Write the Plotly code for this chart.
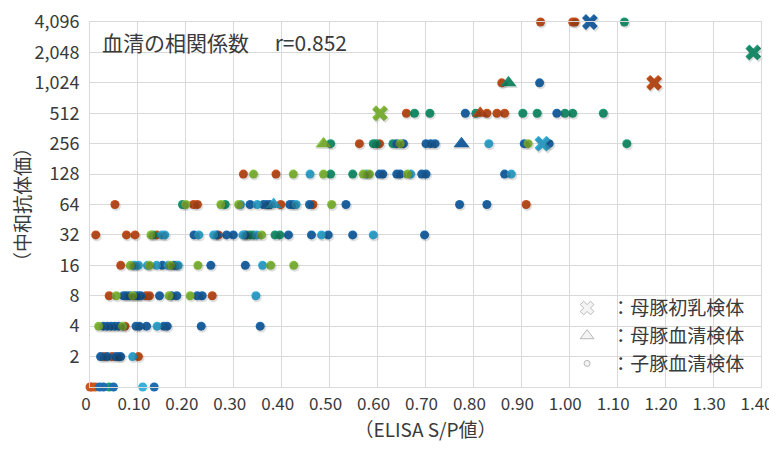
import plotly.graph_objects as go
import math

# ---------------- data ----------------
titer_ticks = [2, 4, 8, 16, 32, 64, 128, 256, 512, 1024, 2048, 4096]
titer_tick_text = ["2", "4", "8", "16", "32", "64", "128", "256", "512", "1,024", "2,048", "4,096"]
sp_ticks = [0, 0.1, 0.2, 0.3, 0.4, 0.5, 0.6, 0.7, 0.8, 0.9, 1.0, 1.1, 1.2, 1.3, 1.4]
sp_tick_text = ["0", "0.10", "0.20", "0.30", "0.40", "0.50", "0.60", "0.70", "0.80", "0.90",
                "1.00", "1.10", "1.20", "1.30", "1.40"]

farm_names = ["A", "B", "C", "D", "E"]
farm_colors = ["#CB5420", "#1E9C76", "#1F6CB0", "#36B0DC", "#8CC540"]

# piglet serum samples: titer -> list of ELISA S/P values (titer 1 = below 2)
piglet_A = {4096: [0.940, 1.007, 1.012], 1024: [0.859], 512: [0.660, 0.828, 0.849, 0.865],
            256: [0.562, 0.604], 128: [0.320, 0.388],
            64: [0.052, 0.216, 0.224, 0.398, 0.465, 0.910],
            32: [0.012, 0.076, 0.094, 0.139, 0.268, 0.327], 16: [0.064],
            8: [0.040, 0.117, 0.124, 0.255], 4: [0.073], 2: [0.029, 0.046, 0.101],
            1: [0.000, 0.004, 0.011]}
piglet_B = {4096: [1.115], 512: [0.677, 0.709, 0.805, 0.903, 0.933, 0.991, 1.007, 1.071],
            256: [0.502, 0.591, 0.597, 0.632, 1.120], 128: [0.502, 0.548], 64: [0.193, 0.282],
            32: [0.131, 0.334, 0.341, 0.386, 0.396], 1: [0.040]}
piglet_C = {1024: [0.938], 512: [0.783, 0.974],
            256: [0.640, 0.654, 0.701, 0.711, 0.720, 0.906, 0.958],
            128: [0.604, 0.611, 0.640, 0.647, 0.692, 0.701, 0.865],
            64: [0.334, 0.362, 0.369, 0.376, 0.417, 0.424, 0.458, 0.534, 0.771, 0.828],
            32: [0.217, 0.264, 0.285, 0.299, 0.323, 0.414, 0.462, 0.497, 0.548, 0.698],
            16: [0.151, 0.174, 0.180, 0.252, 0.324],
            8: [0.070, 0.076, 0.083, 0.094, 0.101, 0.106, 0.145, 0.170, 0.181, 0.224, 0.234],
            4: [0.028, 0.036, 0.044, 0.052, 0.060, 0.096, 0.103, 0.118, 0.154, 0.161, 0.232, 0.355],
            2: [0.022, 0.036, 0.054, 0.060, 0.064], 1: [0.020, 0.028, 0.049, 0.134]}
piglet_D = {256: [0.832], 128: [0.459, 0.577, 0.669, 0.879], 64: [0.314, 0.349, 0.430],
            32: [0.150, 0.156, 0.227, 0.258, 0.319, 0.348, 0.483, 0.591],
            16: [0.090, 0.094, 0.101, 0.120, 0.139, 0.163, 0.184, 0.360],
            8: [0.346], 4: [0.140], 2: [0.089], 1: [0.110]}
piglet_E = {256: [0.647, 0.914], 128: [0.341, 0.424, 0.487, 0.570, 0.583, 0.662],
            64: [0.200, 0.273, 0.310, 0.504], 32: [0.127, 0.358],
            16: [0.084, 0.124, 0.168, 0.225, 0.377, 0.425],
            8: [0.055, 0.089, 0.165, 0.209], 4: [0.018, 0.068]}
piglets = [piglet_A, piglet_B, piglet_C, piglet_D, piglet_E]

# sow serum samples (one per farm)
sow_serum_sp = [0.814, 0.873, 0.775, 0.383, 0.487]
sow_serum_titer = [512, 1024, 256, 64, 256]
# sow colostrum samples (one per farm)
colostrum_sp = [1.177, 1.384, 1.043, 0.944, 0.605]
colostrum_titer = [1024, 2048, 4096, 256, 512]

legend_labels = ["：母豚初乳検体", "：母豚血清検体", "：子豚血清検体"]
title_text = "血清の相関係数　 r=0.852"
x_title = "（ELISA S/P値）"
y_title = "（中和抗体価）"

# ---------------- figure ----------------
FONT = "Noto Sans CJK JP"
PAGE_OFFSET = 8  # default body margin of the html page
W, H = 777, 451 - PAGE_OFFSET
ML, MR, MT, MB = 90 - PAGE_OFFSET, 16 + PAGE_OFFSET, 22 - PAGE_OFFSET, 64
pw, ph = W - ML - MR, H - MT - MB
EPS = 1e-6
x_range = [0 - EPS, 1.4 + EPS]
y_range = [0 - EPS, math.log10(4096) + EPS]
dx = (x_range[1] - x_range[0]) / pw * 1.0
dy = (y_range[1] - y_range[0]) / ph * 1.5
shadow = "rgba(0,0,0,0.13)"
TXT = "#3a3a3a"

fig = go.Figure()


def add_points(xs, ys, color, symbol, size):
    fig.add_trace(go.Scatter(x=xs, y=ys, mode="markers", xaxis="x2", yaxis="y2",
                             marker=dict(color=shadow, size=size + 1, symbol=symbol, line=dict(width=0)),
                             showlegend=False, hoverinfo="skip", cliponaxis=False))
    fig.add_trace(go.Scatter(x=xs, y=ys, mode="markers",
                             marker=dict(color=color, size=size, symbol=symbol, line=dict(width=0)),
                             showlegend=False, cliponaxis=False))


for pig, col in zip(piglets, farm_colors):
    xs, ys = [], []
    for t, vals in pig.items():
        for v in vals:
            xs.append(v)
            ys.append(t)
    add_points(xs, ys, col, "circle", 9)

for i, col in enumerate(farm_colors):
    add_points([sow_serum_sp[i]], [sow_serum_titer[i]], col, "triangle-up", 14)
for i, col in enumerate(farm_colors):
    add_points([colostrum_sp[i]], [colostrum_titer[i]], col, "x", 14)

# legend entries (gray symbols)
leg_sym = [("x", 12), ("triangle-up", 12), ("circle", 6)]
for lab, (sym, sz), g in zip(legend_labels, leg_sym, ["g1", "g2", "g3"]):
    fig.add_trace(go.Scatter(x=[None], y=[None], mode="markers", name=" " + lab, legendgroup=g,
                             marker=dict(color="#f4f4f4", size=sz, symbol=sym,
                                         line=dict(color="#b8b8b8", width=1))))

grid = "#d9d9d9"
fig.update_layout(
    width=W, height=H,
    margin=dict(l=ML, r=MR, t=MT, b=MB, autoexpand=False),
    paper_bgcolor="white", plot_bgcolor="white",
    font=dict(family=FONT, color=TXT, size=16),
    xaxis=dict(range=x_range, tickvals=sp_ticks, ticktext=sp_tick_text, automargin=False,
               showgrid=True, gridcolor=grid, gridwidth=1, zeroline=False,
               showline=True, linecolor=grid, mirror=True, ticks="",
               ticklabeloverflow="allow", ticklabelshift=-4,
               tickfont=dict(size=17, color=TXT), ticklabelstandoff=2,
               title=dict(text=x_title, font=dict(size=19, color=TXT), standoff=8)),
    yaxis=dict(type="log", range=y_range, tickvals=titer_ticks, ticktext=titer_tick_text,
               automargin=False, ticklabeloverflow="allow",
               showgrid=True, gridcolor=grid, gridwidth=1, zeroline=False,
               showline=True, linecolor=grid, mirror=True, ticks="",
               tickfont=dict(size=18, color=TXT), ticklabelstandoff=6,
               title=dict(text=y_title, font=dict(size=19, color=TXT), standoff=2)),
    xaxis2=dict(range=[x_range[0] - dx, x_range[1] - dx], overlaying="x", visible=False),
    yaxis2=dict(type="log", range=[y_range[0] + dy, y_range[1] + dy], overlaying="y", visible=False),
    legend=dict(x=0.711, y=0.268, xanchor="left", yanchor="top",
                font=dict(size=19, color=TXT), bgcolor="rgba(0,0,0,0)",
                tracegroupgap=0, itemsizing="trace"),
    shapes=[dict(type="rect", xref="paper", yref="paper", x0=0.0015, x1=0.4486,
                 y0=0.901, y1=0.994, fillcolor="white", line=dict(width=0), layer="between")],
    annotations=[dict(text=title_text, xref="paper", yref="paper", x=0.0149, y=0.945,
                      xanchor="left", yanchor="middle", showarrow=False,
                      font=dict(size=21, color=TXT))],
)

fig.write_html("out.html")
